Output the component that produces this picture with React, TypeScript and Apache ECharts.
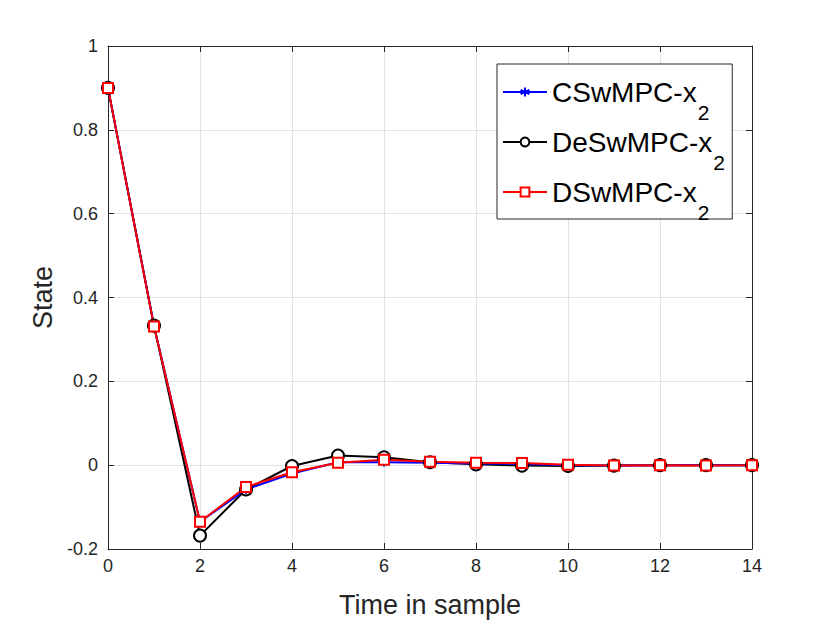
import React, { useEffect, useRef } from "react";
import * as echarts from "echarts";

const samples = [0, 1, 2, 3, 4, 5, 6, 7, 8, 9, 10, 11, 12, 13, 14];
const cswmpc = [0.9, 0.332, -0.135, -0.058, -0.02, 0.007, 0.007, 0.006, 0.004, 0.003, 0.0, -0.001, 0.0, 0.0, 0.0];
const deswmpc = [0.9, 0.333, -0.168, -0.058, -0.002, 0.023, 0.019, 0.007, 0.002, -0.001, -0.002, -0.001, 0.0, 0.0, 0.0];
const dswmpc = [0.9, 0.331, -0.135, -0.052, -0.017, 0.006, 0.013, 0.008, 0.006, 0.005, 0.001, -0.001, 0.0, -0.001, 0.0];
const xTicks = { min: 0, max: 14, interval: 2 };
const yTicks = { min: -0.2, max: 1, interval: 0.2 };
const names = ["CSwMPC-x", "DeSwMPC-x", "DSwMPC-x"];
const subscript = "2";

const FONT = "Liberation Sans";
const AX = "#262626";

function pairs(vals: number[]) {
  return samples.map((s, i) => [s, vals[i]]);
}

export default function App() {
  const ref = useRef<HTMLDivElement>(null);
  useEffect(() => {
    if (!ref.current) return;
    const chart = echarts.init(ref.current, undefined, { renderer: "svg" });
    const asterisk = "path://M0,-10L0,10M-8.66,-5L8.66,5M-8.66,5L8.66,-5";
    const axisCommon = {
      axisLine: { show: true, onZero: false, lineStyle: { color: AX, width: 1 } },
      axisTick: { show: true, inside: true, length: 6, lineStyle: { color: AX } },
    };
    // legend layout constants
    const legendLeft = 497;
    const legendTop = 64;
    const padTop = 3;
    const rowH = 50;
    const textStart = legendLeft + 5 + 44 + 5;
    const subFont = `21px "${FONT}"`;
    const mainFont = `28px "${FONT}"`;
    const subs = names.map((n, i) => {
      const w = echarts.format.getTextRect
        ? (echarts.format as any).getTextRect(n, mainFont).width
        : n.length * 16;
      return {
        type: "text",
        x: textStart + w + 2,
        y: legendTop + padTop + rowH / 2 + rowH * i + 20.5,
        z: 100,
        style: {
          text: subscript,
          x: 0,
          y: 0,
          font: subFont,
          fill: "#000000",
          align: "left",
          verticalAlign: "middle",
          textAlign: "left",
          textVerticalAlign: "middle",
        },
      };
    });
    chart.setOption({
      animation: false,
      backgroundColor: "#ffffff",
      textStyle: { fontFamily: FONT },
      grid: { left: 108, right: 78, top: 46, bottom: 74, show: false },
      legend: {
        data: names,
        orient: "vertical",
        left: legendLeft,
        top: legendTop,
        padding: [padTop, 20, 2, 5],
        itemGap: 0,
        itemWidth: 44,
        itemHeight: 11,
        backgroundColor: "#ffffff",
        borderColor: AX,
        borderWidth: 1,
        borderRadius: 0,
        textStyle: { color: "#000000", fontSize: 28, fontFamily: FONT, lineHeight: rowH },
      },
      graphic: subs,
      xAxis: [
        {
          type: "value",
          ...xTicks,
          name: "Time in sample",
          nameLocation: "middle",
          nameGap: 42,
          nameTextStyle: { fontSize: 27, color: AX, fontFamily: FONT },
          ...axisCommon,
          axisLabel: { fontSize: 18, color: AX, margin: 8, fontFamily: FONT },
          splitLine: { show: true, lineStyle: { color: "#e3e3e3", width: 1 } },
        },
        {
          type: "value",
          ...xTicks,
          position: "top",
          ...axisCommon,
          axisLabel: { show: false },
          splitLine: { show: false },
        },
      ],
      yAxis: [
        {
          type: "value",
          ...yTicks,
          name: "State",
          nameLocation: "middle",
          nameGap: 50,
          nameTextStyle: { fontSize: 27, color: AX, fontFamily: FONT },
          ...axisCommon,
          axisLabel: { fontSize: 18, color: AX, margin: 10, fontFamily: FONT },
          splitLine: { show: true, lineStyle: { color: "#e3e3e3", width: 1 } },
        },
        {
          type: "value",
          ...yTicks,
          position: "right",
          ...axisCommon,
          axisLabel: { show: false },
          splitLine: { show: false },
        },
      ],
      series: [
        {
          name: names[1],
          type: "line",
          data: pairs(deswmpc),
          symbol: "emptyCircle",
          symbolSize: 12,
          color: "#000000",
          lineStyle: { color: "#000000", width: 2 },
          itemStyle: { color: "#000000", borderColor: "#000000", borderWidth: 1.8 },
        },
        {
          name: names[0],
          type: "line",
          data: pairs(cswmpc),
          symbol: asterisk,
          symbolSize: 9,
          color: "#0000ff",
          lineStyle: { color: "#0000ff", width: 2 },
          itemStyle: { color: "#0000ff", borderColor: "#0000ff", borderWidth: 1.6 },
        },
        {
          name: names[2],
          type: "line",
          data: pairs(dswmpc),
          symbol: "emptyRect",
          symbolSize: 10,
          color: "#ff0000",
          lineStyle: { color: "#ff0000", width: 2 },
          itemStyle: { color: "#ff0000", borderColor: "#ff0000", borderWidth: 1.8 },
        },
      ],
    });
    return () => chart.dispose();
  }, []);
  return <div ref={ref} style={{ width: 830, height: 623, position: "absolute", left: 0, top: 0 }} />;
}
